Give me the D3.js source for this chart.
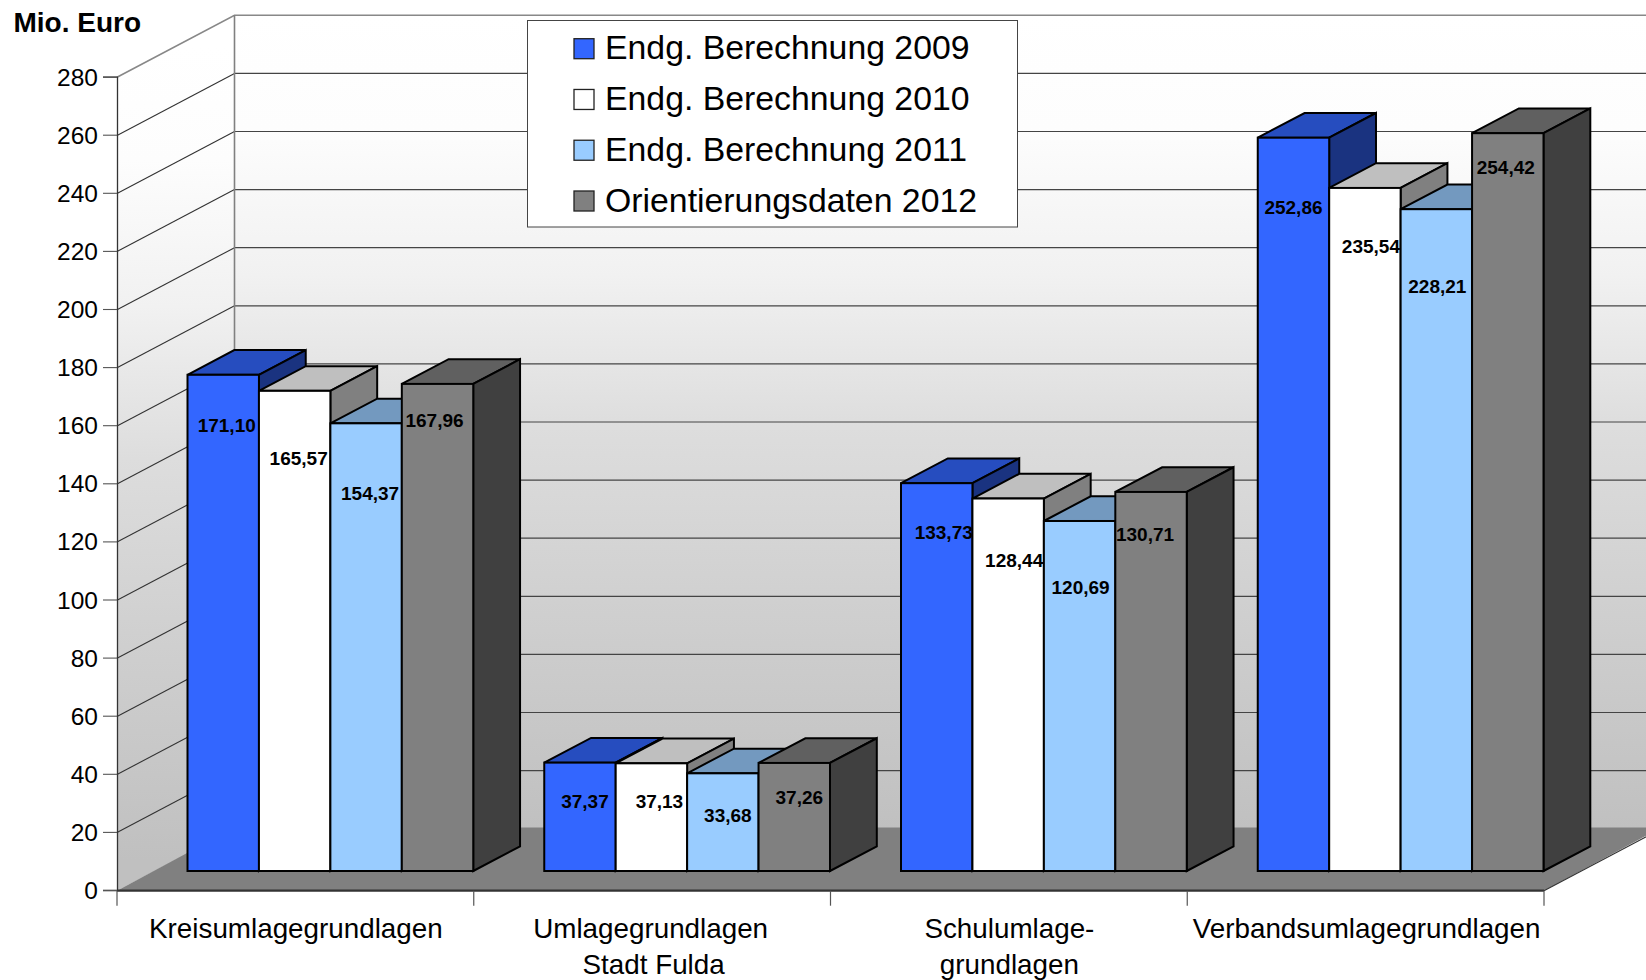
<!DOCTYPE html>
<html><head><meta charset="utf-8">
<script src="https://cdnjs.cloudflare.com/ajax/libs/d3/7.8.5/d3.min.js"></script>
<style>html,body{margin:0;padding:0;background:#fff}svg{display:block}text{font-family:"Liberation Sans",Arial,sans-serif;fill:#000}</style>
</head><body><svg id="c" width="1646" height="980"></svg>
<script>
const categories = [["Kreisumlagegrundlagen"],["Umlagegrundlagen","Stadt Fulda"],["Schulumlage-","grundlagen"],["Verbandsumlagegrundlagen"]];
const seriesNames = ["Endg. Berechnung 2009","Endg. Berechnung 2010","Endg. Berechnung 2011","Orientierungsdaten 2012"];
const v2009 = [171.10,37.37,133.73,252.86];
const v2010 = [165.57,37.13,128.44,235.54];
const v2011 = [154.37,33.68,120.69,228.21];
const v2012 = [167.96,37.26,130.71,254.42];
const yTicks = [0,20,40,60,80,100,120,140,160,180,200,220,240,260,280];
const frontColors = ["#3366ff","#ffffff","#99ccff","#808080"];
const topColors = ["#264dbf","#bfbfbf","#7399bf","#606060"];
const sideColors = ["#1a3380","#808080","#4d6680","#404040"];
// label placement nudges (px), per series then category
const labelDrop = [[51,39,49,70],[68,38,62,58],[70,42,66,77],[36,34,42,34]];
const labelShift = [[3.5,5,7,0],[4,8,6,6],[4,5,1,1],[-3,5,-6,-2]];
// wall shading: [offset, colour]
const wallStops = [[0,"#ffffff"],[0.14,"#fdfdfd"],[0.32,"#f1f1f1"],[0.507,"#dddddd"],[0.72,"#d0d0d0"],[1,"#c0c0c0"]];

const series = [v2009,v2010,v2011,v2012];
const svg = d3.select("#c");
const defs = svg.append("defs");
function mkGrad(id,y1,y2){
  const gr = defs.append("linearGradient").attr("id",id).attr("gradientUnits","userSpaceOnUse").attr("x1",0).attr("x2",0).attr("y1",y1).attr("y2",y2);
  wallStops.forEach(s=>gr.append("stop").attr("offset",s[0]).attr("stop-color",s[1]));
}
mkGrad("wall",15,829);
mkGrad("lwall",46,860);

const L=117,R=1544,Y0=890.7,YT=77.3,DX=117.5,DY=62,FLOORDY=63.2,W=1646;
const y = d3.scaleLinear().domain([0,280]).range([Y0,YT]);
const x = d3.scaleBand().domain(d3.range(categories.length)).range([L,R]);
const inner = d3.scaleBand().domain(d3.range(series.length)).range([71,x.bandwidth()]);
const poly = p => "M"+p.map(d=>d.join(",")).join("L")+"Z";
const clip = defs.append("clipPath").attr("id","page").append("rect").attr("width",W).attr("height",980);
const g = svg.append("g").attr("clip-path","url(#page)");

// walls
g.append("path").attr("d",poly([[L+DX,y(280)-DY],[W+20,y(280)-DY],[W+20,y(0)-DY],[L+DX,y(0)-DY]])).attr("fill","url(#wall)");
g.append("path").attr("d",poly([[L,y(280)],[L+DX,y(280)-DY],[L+DX,y(0)-DY],[L,y(0)]])).attr("fill","url(#lwall)");
// grid
yTicks.slice(1,-1).forEach(t=>{
  g.append("line").attr("x1",L).attr("y1",y(t)).attr("x2",L+DX).attr("y2",y(t)-DY).attr("stroke","#333").attr("stroke-width",1.1);
  g.append("line").attr("x1",L+DX).attr("y1",y(t)-DY).attr("x2",W).attr("y2",y(t)-DY).attr("stroke","#444").attr("stroke-width",1.2);
});
// wall edges
g.append("path").attr("d",`M${L},${y(280)}L${L+DX},${y(280)-DY}L${W},${y(280)-DY}`).attr("fill","none").attr("stroke","#888").attr("stroke-width",1.6);
g.append("line").attr("x1",L+DX).attr("x2",L+DX).attr("y1",y(280)-DY).attr("y2",y(0)-DY).attr("stroke","#808080").attr("stroke-width",1.6);
// floor
g.append("path").attr("d",poly([[L,y(0)],[R,y(0)],[R+DX,y(0)-FLOORDY],[L+DX,y(0)-FLOORDY]])).attr("fill","#808080");
g.append("line").attr("x1",R).attr("y1",y(0)).attr("x2",R+DX).attr("y2",y(0)-DY).attr("stroke","#333").attr("stroke-width",1.1);
g.append("line").attr("x1",L).attr("x2",R).attr("y1",y(0)).attr("y2",y(0)).attr("stroke","#333").attr("stroke-width",2.2);

// y axis
const ax = svg.append("g").attr("transform",`translate(${L},-0.7)`)
  .call(d3.axisLeft(y).tickValues(yTicks).tickSize(14).tickPadding(5).tickFormat(d3.format("d")));
ax.select(".domain").attr("stroke","#333").attr("stroke-width",1.3);
ax.selectAll(".tick line").attr("stroke","#555").attr("stroke-width",1.1);
ax.selectAll("text").attr("font-size",24.5).style("font-family",'"Liberation Sans"').attr("dy","0.35em");

// category ticks
const edges = d3.range(categories.length).map(i=>x(i)).concat([R]);
svg.selectAll(".ct").data(edges).join("line").attr("class","ct").attr("x1",d=>d).attr("x2",d=>d).attr("y1",y(0)).attr("y2",y(0)+15).attr("stroke","#555").attr("stroke-width",1.2);

// bars
const BD = 19.7, SX = 46.8, SY = 24.7;
const fmt = d3.formatLocale({decimal:",",thousands:".",grouping:[3],currency:["","€"]}).format(".2f");
const base = y(0)-BD;
const h = d3.scaleLinear().domain([0,280]).range([0,812]);
categories.forEach((c,ci)=>{
  series.forEach((s,si)=>{
    const x0 = x(ci)+inner(si)-0.5, x1 = x0+inner.bandwidth(), t = base-h(s[ci]);
    const bar = g.append("g").attr("stroke","#000").attr("stroke-width",2).attr("stroke-linejoin","miter");
    bar.append("path").attr("d",poly([[x0,t],[x0+SX,t-SY],[x1+SX,t-SY],[x1,t]])).attr("fill",topColors[si]);
    bar.append("path").attr("d",poly([[x1,t],[x1+SX,t-SY],[x1+SX,base-SY],[x1,base]])).attr("fill",sideColors[si]);
    bar.append("rect").attr("x",x0).attr("y",t).attr("width",x1-x0).attr("height",base-t).attr("fill",frontColors[si]);
  });
});
categories.forEach((c,ci)=>{
  series.forEach((s,si)=>{
    const x0 = x(ci)+inner(si), t = base-h(s[ci]);
    svg.append("text").attr("x",x0+inner.bandwidth()/2+labelShift[si][ci]-0.5).attr("y",t+labelDrop[si][ci]).attr("dy","0.35em")
      .attr("text-anchor","middle").attr("font-size",19).attr("font-weight","bold").text(fmt(s[ci]));
  });
  c.forEach((line,li)=>{
    svg.append("text").attr("x",x(ci)+x.bandwidth()/2+(ci==1?(li==1?1.5:-1.5):ci==3?1:0.5)).attr("y",937.5+li*36).attr("text-anchor","middle").attr("font-size",27.8).text(line);
  });
});

// title
svg.append("text").attr("x",13.5).attr("y",32).attr("font-size",28).attr("font-weight","bold").text("Mio. Euro");

// legend
svg.append("rect").attr("x",527.5).attr("y",20.5).attr("width",490).attr("height",206.5).attr("fill","#fff").attr("stroke","#444").attr("stroke-width",1);
const ly = d3.scalePoint().domain(d3.range(seriesNames.length)).range([48.7,201]);
seriesNames.forEach((n,i)=>{
  svg.append("rect").attr("x",574).attr("y",ly(i)-10).attr("width",20).attr("height",20).attr("fill",frontColors[i]).attr("stroke","#222").attr("stroke-width",1.3);
  svg.append("text").attr("x",605).attr("y",ly(i)-1.5).attr("dy","0.36em").attr("font-size",33.8).text(n);
});
</script></body></html>
